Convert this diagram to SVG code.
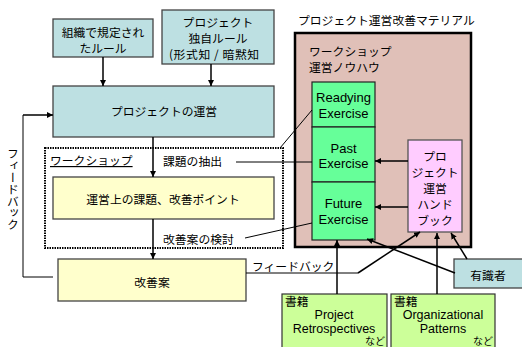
<svg xmlns="http://www.w3.org/2000/svg" width="522" height="347" viewBox="0 0 522 347">
<defs>
<marker id="ah" viewBox="0 0 10 10" refX="10" refY="5" markerWidth="6" markerHeight="6" markerUnits="userSpaceOnUse" orient="auto">
<path d="M0,0 L10,5 L0,10 z" fill="#000"/>
</marker>
</defs>
<style>
text{font-family:"Noto Sans CJK JP","Liberation Sans",sans-serif;font-size:11.8px;fill:#000}
.en{font-family:"Liberation Sans","Noto Sans CJK JP",sans-serif;font-size:13px}
.ben{font-family:"Liberation Sans","Noto Sans CJK JP",sans-serif;font-size:12.5px}
.c{text-anchor:middle}
.blue{fill:#bde0e2;stroke:#444;stroke-width:1.3}
.yel{fill:#ffffcc;stroke:#444;stroke-width:1.3}
.grn{fill:#66ff99;stroke:#222;stroke-width:1.2}
.pink{fill:#ffccff;stroke:#555;stroke-width:1.3}
.book{fill:#ccff99;stroke:#333;stroke-width:1.2}
.ln{fill:none;stroke:#000;stroke-width:1}
.ar{fill:none;stroke:#000;stroke-width:1.5;marker-end:url(#ah)}
.nado{font-size:10px}
</style>

<g id="material">
<text x="298" y="25">プロジェクト運営改善マテリアル</text>
<rect x="295" y="33" width="176" height="214" fill="#e0c0b8" stroke="#000" stroke-width="2.5"/>
<text x="309" y="56">ワークショップ</text>
<text x="309" y="72">運営ノウハウ</text>
</g>

<g id="rule-org">
<rect class="blue" x="53" y="19" width="100" height="38"/>
<text class="c" x="103" y="37">組織で規定され</text>
<text class="c" x="103" y="53">たルール</text>
</g>

<g id="rule-proj">
<rect class="blue" x="162" y="10" width="112" height="54"/>
<text class="c" x="218" y="27">プロジェクト</text>
<text class="c" x="218" y="43">独自ルール</text>
<text x="169" y="59" letter-spacing="0.6">(形式知 / 暗黙知</text>
</g>

<g id="project-op">
<rect class="blue" x="53" y="86" width="221" height="51"/>
<text class="c" x="164" y="116">プロジェクトの運営</text>
</g>

<g id="workshop">
<rect x="45" y="148" width="238" height="100" fill="none" stroke="#000" stroke-width="2" stroke-dasharray="1.5,1"/>
<text x="50" y="165" text-decoration="underline">ワークショップ</text>
</g>

<g id="issues">
<rect class="yel" x="53" y="177" width="221" height="42"/>
<text class="c" x="163" y="204">運営上の課題、改善ポイント</text>
</g>

<g id="kaizen">
<rect class="yel" x="58" y="259" width="188" height="42"/>
<text class="c" x="152" y="287">改善案</text>
</g>

<g id="readying">
<rect class="grn" x="312" y="82" width="63" height="45"/>
<text class="en c" x="343.5" y="102">Readying</text>
<text class="en c" x="343.5" y="118">Exercise</text>
</g>
<g id="past">
<rect class="grn" x="312" y="127" width="63" height="55"/>
<text class="en c" x="343.5" y="153">Past</text>
<text class="en c" x="343.5" y="168">Exercise</text>
</g>
<g id="future">
<rect class="grn" x="312" y="182" width="63" height="58"/>
<text class="en c" x="343.5" y="208">Future</text>
<text class="en c" x="343.5" y="224">Exercise</text>
</g>

<g id="handbook">
<rect class="pink" x="408" y="140" width="54" height="92"/>
<text class="c" x="435" y="161">プロ</text>
<text class="c" x="435" y="177">ジェクト</text>
<text class="c" x="435" y="193">運営</text>
<text class="c" x="435" y="209">ハンド</text>
<text class="c" x="435" y="225">ブック</text>
</g>

<g id="expert">
<rect class="blue" x="454" y="259" width="72" height="29"/>
<text class="c" x="488" y="280">有識者</text>
</g>

<g id="book1">
<rect class="book" x="282" y="294" width="105" height="60"/>
<text x="285" y="305.5">書籍</text>
<text class="ben c" x="334" y="319">Project</text>
<text class="ben c" x="334" y="332.5">Retrospectives</text>
<text class="nado" x="385" y="344.5" text-anchor="end">など</text>
</g>
<g id="book2">
<rect class="book" x="391" y="294" width="104" height="60"/>
<text x="394" y="305.5">書籍</text>
<text class="ben c" x="443" y="319">Organizational</text>
<text class="ben c" x="443" y="332.5">Patterns</text>
<text class="nado" x="493" y="344.5" text-anchor="end">など</text>
</g>

<g id="connectors">
<line class="ar" x1="103" y1="57" x2="103" y2="86"/>
<line class="ar" x1="211" y1="64" x2="211" y2="86"/>
<line class="ar" x1="153" y1="137" x2="153" y2="177"/>
<line class="ar" x1="153" y1="219" x2="153" y2="259"/>
<polyline class="ln" points="53,277 23,277 23,115"/>
<line class="ar" x1="23" y1="115" x2="53" y2="115"/>
<text x="13" y="148" writing-mode="vertical-rl" style="writing-mode:vertical-rl">フィードバック</text>
<line class="ln" x1="312" y1="110" x2="280" y2="148"/>
<text x="163" y="166">課題の抽出</text>
<line class="ln" x1="236" y1="162" x2="312" y2="162"/>
<text x="163" y="244">改善案の検討</text>
<line class="ln" x1="245" y1="238" x2="312" y2="223"/>
<line class="ar" x1="408" y1="161" x2="375" y2="161"/>
<line class="ar" x1="408" y1="207" x2="375" y2="207"/>
<text x="252" y="271">フィードバック</text>
<polyline class="ln" points="246,273 358,273"/>
<line class="ar" x1="358" y1="273" x2="420" y2="232"/>
<line class="ar" x1="455" y1="273" x2="367" y2="239"/>
<line class="ar" x1="467" y1="259" x2="451" y2="233"/>
<line class="ar" x1="337" y1="294" x2="337" y2="240"/>
<line class="ar" x1="437" y1="294" x2="437" y2="233"/>
</g>
</svg>
